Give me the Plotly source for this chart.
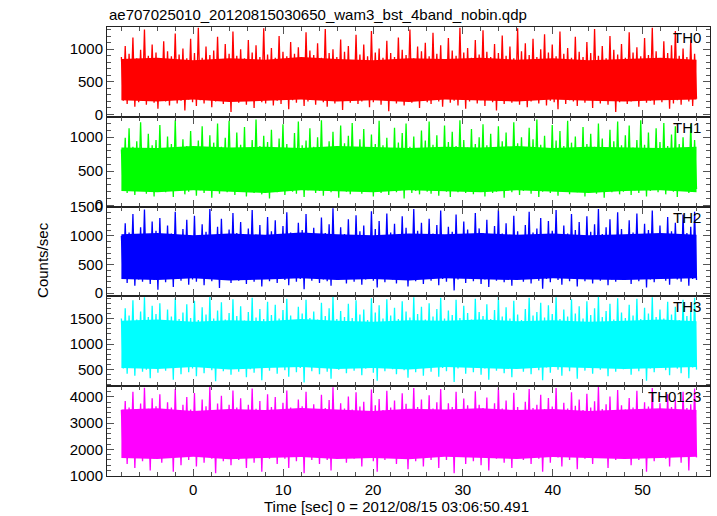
import numpy as np
import plotly.graph_objects as go
from plotly.subplots import make_subplots

title_text = "ae707025010_20120815030650_wam3_bst_4band_nobin.qdp"
x_title = "Time [sec] 0 = 2012/08/15 03:06:50.491"
y_title = "Counts/sec"
band_names = ["TH0", "TH1", "TH2", "TH3", "TH0123"]
band_colors = ["#ff0000", "#00ff00", "#0000ff", "#00ffff", "#ff00ff"]

t_start = -8.0
t_stop = 56.0

# Alternating local maxima / minima of each light curve
th0 = [
    880, 210, 1050, 160, 930, 240, 1180, 120, 860, 190, 990, 230, 1300, 150, 900, 220, 1070, 180, 950, 90,
    840, 240, 1120, 200, 970, 140, 890, 250, 1240, 170, 920, 210, 1010, 60, 860, 230, 1160, 190, 940, 130,
    1330, 220, 870, 170, 1040, 250, 910, 110, 980, 200, 1190, 240, 850, 160, 1080, 210, 930, 40, 1270, 230,
    900, 180, 1000, 250, 860, 150, 1140, 220, 950, 100, 1060, 240, 880, 190, 1320, 170, 920, 230, 1020, 140,
    870, 210, 1200, 160, 960, 240, 890, 80, 1110, 220, 930, 180, 1030, 250, 850, 130, 1260, 200, 980, 230,
    910, 150, 1090, 240, 870, 190, 1310, 120, 940, 220, 1000, 170, 880, 250, 1150, 70, 960, 210, 1050, 180,
    830, 240, 1220, 160, 920, 200, 1070, 230, 890, 110, 1280, 190, 950, 250, 1010, 150, 870, 220, 1130, 50,
    940, 230, 880, 170, 1180, 210, 990, 140, 910, 250, 1300, 180, 860, 220, 1040, 100, 970, 240, 1100, 190,
    890, 160, 1250, 230, 930, 200, 1060, 120, 850, 250, 1170, 180, 980, 210, 900, 140, 1330, 230, 950, 90,
    1020, 200, 870, 250, 1140, 170, 920, 220, 1290, 130, 960, 240, 880, 190, 1080, 60, 940, 210, 1210, 160,
    900, 240, 1040, 180, 860, 220, 1320, 150, 970, 250, 1090, 110, 910, 200, 1160, 230, 880, 170, 1000, 240,
    1230, 140, 950, 210, 1070, 190, 890, 80, 1270, 240, 930, 160, 1020, 220, 870, 200, 1190, 130, 960, 250,
    880, 180, 1110, 230, 940, 100, 1310, 210, 900, 170, 1050, 250, 860, 150, 1200, 220, 990, 40, 920, 190,
    1080, 240, 870, 160, 1260, 200, 950, 230, 1030, 120, 890, 250, 1170, 180, 910, 210, 1330, 150, 970, 230,
    860, 190, 1120, 240, 940, 90, 1060, 170, 1280, 220, 900, 150, 1010, 250, 880, 200, 1150, 130, 930, 240,
]
th1 = [
    820, 230, 990, 180, 1130, 250, 860, 150, 940, 210, 1220, 240, 800, 170, 1050, 220, 880, 130, 960, 200,
    1180, 250, 840, 190, 1010, 230, 900, 120, 1250, 210, 830, 240, 970, 160, 870, 200, 1090, 250, 810, 140,
    950, 220, 1160, 180, 850, 240, 1030, 110, 920, 230, 1200, 170, 860, 250, 990, 190, 1240, 210, 840, 150,
    1070, 240, 890, 200, 1150, 130, 820, 250, 960, 180, 1260, 220, 870, 160, 1020, 240, 930, 100, 1110, 210,
    840, 190, 980, 250, 1190, 150, 900, 230, 810, 200, 1060, 170, 1230, 240, 880, 120, 950, 220, 1130, 250,
    860, 180, 1000, 210, 1250, 140, 830, 240, 940, 190, 1080, 230, 870, 110, 1170, 250, 910, 200, 1020, 160,
    1210, 220, 850, 250, 970, 170, 1120, 200, 820, 240, 1040, 130, 900, 210, 1240, 180, 880, 230, 990, 150,
    830, 250, 1140, 190, 920, 220, 1060, 100, 1200, 240, 860, 180, 1010, 210, 840, 160, 1100, 250, 950, 200,
    1230, 170, 890, 230, 1030, 140, 810, 250, 1170, 200, 930, 120, 1080, 240, 870, 190, 1250, 220, 960, 180,
    850, 240, 1120, 160, 900, 210, 1000, 250, 1190, 130, 880, 230, 1050, 180, 820, 200, 1160, 240, 940, 110,
    1070, 220, 860, 190, 1220, 250, 910, 150, 1000, 210, 830, 240, 1140, 170, 970, 230, 1260, 120, 890, 200,
    1020, 250, 840, 180, 1180, 220, 950, 140, 1090, 240, 870, 200, 1240, 160, 920, 230, 1010, 190, 810, 250,
    1150, 130, 900, 220, 1050, 250, 860, 170, 1200, 210, 980, 110, 830, 240, 1110, 190, 940, 230, 1230, 160,
    880, 200, 1030, 250, 1170, 150, 850, 220, 960, 180, 1250, 240, 890, 130, 1070, 210, 820, 250, 1130, 190,
    930, 230, 1210, 160, 870, 240, 1040, 200, 1160, 120, 900, 220, 1000, 250, 840, 180, 1190, 210, 960, 240,
]
th2 = [
    1000, 250, 1220, 180, 1060, 290, 1380, 130, 980, 240, 1150, 200, 1460, 270, 1020, 160, 1250, 230, 1090, 60,
    1310, 280, 970, 190, 1180, 250, 1040, 110, 1420, 260, 990, 220, 1120, 290, 1280, 150, 1010, 240, 1350, 200,
    960, 270, 1200, 140, 1070, 290, 1470, 210, 1000, 250, 1160, 90, 1300, 230, 980, 280, 1110, 180, 1400, 260,
    1050, 220, 1240, 290, 970, 160, 1130, 240, 1450, 200, 1020, 270, 1190, 120, 990, 250, 1330, 210, 1080, 290,
    1270, 180, 1000, 260, 1170, 230, 1410, 140, 1060, 290, 960, 200, 1230, 250, 1100, 70, 1380, 270, 1010, 220,
    1140, 290, 980, 180, 1320, 240, 1050, 210, 1200, 130, 1480, 260, 990, 230, 1150, 280, 1030, 170, 1290, 250,
    1010, 200, 1360, 270, 1080, 150, 1180, 240, 970, 290, 1430, 220, 1120, 100, 1260, 260, 1000, 190, 1390, 280,
    1060, 240, 1210, 170, 990, 290, 1340, 230, 1140, 120, 1020, 260, 1470, 210, 1090, 280, 1230, 160, 980, 250,
    1300, 220, 1040, 290, 1190, 140, 1440, 250, 1000, 200, 1160, 270, 1070, 50, 1370, 240, 1010, 290, 1250, 180,
    1110, 260, 980, 210, 1400, 280, 1130, 160, 1050, 240, 1280, 110, 990, 290, 1170, 220, 1460, 250, 1040, 190,
    1220, 280, 1000, 130, 1350, 240, 1080, 270, 970, 200, 1190, 290, 1420, 170, 1060, 250, 1130, 220, 1310, 80,
    1020, 250, 1260, 190, 1090, 290, 1450, 230, 990, 150, 1180, 270, 1040, 210, 1380, 260, 1100, 120, 1240, 290,
    1000, 210, 1340, 280, 1070, 170, 1200, 250, 1470, 220, 1030, 290, 1150, 140, 1290, 240, 980, 200, 1410, 270,
    1120, 230, 1010, 290, 1270, 160, 1060, 250, 1390, 210, 990, 280, 1210, 100, 1100, 240, 1440, 190, 1030, 260,
    1180, 290, 1000, 220, 1330, 150, 1080, 270, 1230, 240, 970, 200, 1370, 280, 1050, 130, 1160, 250, 1420, 230,
]
th3 = [
    1500, 520, 1700, 420, 1560, 570, 1860, 380, 1480, 540, 1640, 460, 1920, 500, 1530, 330, 1750, 560, 1590, 440,
    1800, 580, 1460, 480, 1680, 530, 1540, 300, 1900, 560, 1490, 410, 1620, 570, 1780, 450, 1510, 520, 1850, 370,
    1470, 550, 1720, 430, 1580, 580, 1930, 490, 1500, 270, 1660, 540, 1820, 470, 1480, 570, 1610, 400, 1880, 530,
    1550, 460, 1740, 580, 1460, 350, 1630, 510, 1910, 440, 1520, 560, 1690, 290, 1490, 540, 1830, 480, 1570, 580,
    1770, 420, 1500, 550, 1670, 490, 1890, 360, 1560, 570, 1450, 450, 1730, 530, 1600, 250, 1870, 560, 1510, 470,
    1640, 580, 1480, 410, 1810, 530, 1550, 460, 1700, 320, 1930, 550, 1490, 500, 1650, 570, 1530, 430, 1790, 540,
    1510, 480, 1860, 560, 1580, 390, 1680, 520, 1470, 580, 1900, 440, 1620, 280, 1760, 550, 1500, 470, 1880, 570,
    1560, 510, 1710, 410, 1490, 580, 1840, 490, 1640, 340, 1520, 560, 1920, 450, 1590, 570, 1730, 380, 1480, 530,
    1800, 460, 1540, 580, 1690, 360, 1910, 530, 1500, 470, 1660, 560, 1570, 260, 1870, 520, 1510, 580, 1750, 420,
    1610, 550, 1480, 450, 1890, 570, 1630, 400, 1550, 520, 1780, 300, 1490, 580, 1670, 480, 1930, 540, 1540, 430,
    1720, 570, 1500, 350, 1850, 520, 1580, 560, 1470, 460, 1690, 580, 1910, 410, 1560, 530, 1630, 490, 1810, 290,
    1520, 540, 1760, 440, 1590, 580, 1920, 500, 1490, 380, 1680, 560, 1540, 470, 1880, 550, 1600, 320, 1740, 580,
    1500, 480, 1840, 570, 1570, 420, 1700, 540, 1930, 500, 1530, 580, 1650, 370, 1790, 530, 1480, 460, 1900, 560,
    1620, 510, 1510, 580, 1770, 400, 1560, 540, 1890, 470, 1490, 570, 1710, 280, 1600, 520, 1920, 450, 1530, 550,
    1680, 580, 1500, 490, 1830, 390, 1580, 560, 1730, 520, 1470, 430, 1870, 570, 1550, 330, 1660, 540, 1910, 500,
]
th0123 = [
    3500, 1700, 3850, 1450, 3600, 1850, 4200, 1300, 3450, 1750, 3750, 1550, 4350, 1800, 3550, 1200, 3950, 1650, 3650, 1900,
    4100, 1500, 3500, 1800, 3800, 1700, 3600, 1150, 4300, 1850, 3480, 1400, 3700, 1900, 4000, 1600, 3520, 1750, 4150, 1350,
    3450, 1800, 3900, 1500, 3650, 1900, 4380, 1650, 3500, 1100, 3750, 1850, 4050, 1550, 3480, 1900, 3700, 1400, 4250, 1750,
    3600, 1600, 3950, 1900, 3450, 1300, 3700, 1700, 4320, 1500, 3550, 1850, 3850, 1150, 3500, 1800, 4100, 1650, 3620, 1900,
    4000, 1450, 3500, 1850, 3780, 1650, 4250, 1300, 3600, 1900, 3420, 1550, 3900, 1800, 3650, 1100, 4200, 1850, 3520, 1600,
    3720, 1900, 3480, 1450, 4080, 1750, 3580, 1600, 3880, 1200, 4370, 1850, 3500, 1700, 3760, 1900, 3560, 1500, 4020, 1800,
    3520, 1650, 4180, 1850, 3640, 1350, 3820, 1750, 3450, 1900, 4280, 1550, 3680, 1150, 3920, 1850, 3500, 1600, 4240, 1900,
    3600, 1700, 3860, 1450, 3480, 1900, 4140, 1650, 3740, 1250, 3540, 1850, 4340, 1550, 3620, 1900, 3900, 1350, 3460, 1800,
    4060, 1600, 3560, 1900, 3800, 1300, 4300, 1750, 3500, 1600, 3760, 1850, 3620, 1100, 4200, 1750, 3520, 1900, 3940, 1450,
    3680, 1850, 3460, 1550, 4220, 1900, 3700, 1400, 3580, 1750, 3980, 1200, 3500, 1900, 3760, 1650, 4360, 1800, 3560, 1500,
    3860, 1900, 3500, 1300, 4160, 1750, 3620, 1850, 3450, 1600, 3820, 1900, 4300, 1450, 3580, 1800, 3700, 1650, 4080, 1150,
    3540, 1800, 3960, 1500, 3640, 1900, 4340, 1700, 3480, 1350, 3780, 1850, 3560, 1600, 4180, 1850, 3660, 1250, 3900, 1900,
    3500, 1650, 4120, 1900, 3600, 1450, 3840, 1800, 4380, 1700, 3540, 1900, 3720, 1300, 4020, 1800, 3460, 1600, 4260, 1850,
    3680, 1750, 3520, 1900, 3960, 1400, 3600, 1800, 4240, 1600, 3480, 1900, 3800, 1150, 3640, 1750, 4340, 1550, 3540, 1850,
    3760, 1900, 3500, 1650, 4100, 1350, 3620, 1850, 3880, 1750, 3460, 1500, 4200, 1900, 3580, 1200, 3720, 1800, 4320, 1700,
]

# Envelope of the saturated core of each light curve (every 4 s from -8 to 56)
core_lo = [
    [220, 200, 230, 190, 210, 230, 200, 220, 190, 230, 210, 200, 230, 210, 200, 220, 230],
    [210, 190, 220, 200, 180, 220, 200, 190, 220, 210, 190, 220, 200, 180, 210, 220, 190],
    [250, 230, 260, 220, 240, 260, 230, 250, 220, 260, 240, 230, 260, 240, 230, 250, 260],
    [530, 510, 550, 500, 530, 550, 510, 530, 500, 550, 530, 510, 550, 530, 510, 530, 550],
    [1680, 1640, 1720, 1630, 1680, 1710, 1640, 1680, 1630, 1720, 1680, 1640, 1710, 1680, 1640, 1680, 1720],
]
core_hi = [
    [850, 870, 830, 860, 840, 880, 850, 830, 860, 850, 870, 840, 860, 830, 850, 870, 840],
    [850, 840, 870, 850, 860, 840, 870, 850, 840, 860, 850, 870, 840, 860, 850, 840, 860],
    [1030, 1050, 1010, 1040, 1020, 1060, 1030, 1010, 1040, 1030, 1050, 1020, 1040, 1010, 1030, 1050, 1020],
    [1460, 1480, 1440, 1470, 1450, 1490, 1460, 1440, 1470, 1460, 1480, 1450, 1470, 1440, 1460, 1480, 1450],
    [3520, 3570, 3470, 3540, 3500, 3580, 3520, 3470, 3550, 3520, 3570, 3500, 3540, 3470, 3520, 3570, 3500],
]

series = [th0, th1, th2, th3, th0123]
y_ranges = [[-35, 1340], [-20, 1300], [-55, 1510], [175, 1935], [990, 4410]]
y_dticks = [500, 500, 500, 500, 1000]
y_minor = [100, 100, 100, 100, 200]
x_range = [-9.6, 57.5]

FONT = "Liberation Sans, Arial, Helvetica, sans-serif"

fig = make_subplots(rows=5, cols=1, shared_xaxes=True, vertical_spacing=0)

for i, (vals, name, col) in enumerate(zip(series, band_names, band_colors)):
    t = np.linspace(t_start, t_stop, len(vals))
    tc = np.linspace(t_start, t_stop, len(core_lo[i]))
    fig.add_trace(
        go.Scatter(x=list(tc) + list(tc[::-1]), y=core_hi[i] + core_lo[i][::-1],
                   mode="lines", fill="toself", fillcolor=col, line=dict(width=0, color=col),
                   showlegend=False, hoverinfo="skip"),
        row=i + 1, col=1,
    )
    fig.add_trace(
        go.Scatter(x=t, y=vals, mode="lines", line=dict(color=col, width=1.3),
                   showlegend=False, hoverinfo="skip"),
        row=i + 1, col=1,
    )
    fig.update_yaxes(
        range=y_ranges[i], dtick=y_dticks[i], tick0=0,
        minor=dict(dtick=y_minor[i], ticks="inside", ticklen=4, tickcolor="#555"),
        row=i + 1, col=1,
    )
    fig.add_annotation(
        text=name, xref="x domain" if i == 0 else f"x{i+1} domain",
        yref="y domain" if i == 0 else f"y{i+1} domain",
        x=0.988, y=1.0, xanchor="right", yanchor="top", yshift=0,
        showarrow=False, font=dict(family=FONT, size=15, color="black"),
    )

fig.update_yaxes(
    showline=True, linecolor="#222", linewidth=1, mirror="allticks",
    ticks="inside", ticklen=7, tickcolor="#555", showgrid=False, zeroline=False,
    tickfont=dict(family=FONT, size=15, color="black"), automargin=False,
)
fig.update_xaxes(
    range=x_range, dtick=10, tick0=0,
    minor=dict(dtick=2, ticks="inside", ticklen=4, tickcolor="#555"),
    showline=True, linecolor="#222", linewidth=1, mirror="allticks",
    ticks="inside", ticklen=7, tickcolor="#555", showgrid=False, zeroline=False,
    tickfont=dict(family=FONT, size=15, color="black"), automargin=False,
)

fig.add_annotation(text=title_text, xref="paper", yref="paper", x=0, y=1,
                   xanchor="left", yanchor="bottom", yshift=2, showarrow=False,
                   font=dict(family=FONT, size=15, color="black"))
fig.add_annotation(text=x_title, xref="paper", yref="paper", x=0.48, y=0,
                   xanchor="center", yanchor="middle", yshift=-30, showarrow=False,
                   font=dict(family=FONT, size=15, color="black"))
fig.add_annotation(text=y_title, xref="paper", yref="paper", x=-0.108, y=0.481,
                   xanchor="center", yanchor="middle", textangle=-90, showarrow=False,
                   font=dict(family=FONT, size=15, color="black"))

fig.update_layout(
    width=717, height=516,
    margin=dict(l=107, r=7, t=27, b=40),
    paper_bgcolor="white", plot_bgcolor="white",
    font=dict(family=FONT, size=15, color="black"),
)

fig.write_html(
    "out.html",
    config={"displayModeBar": False},
    post_script="document.body.style.margin='0';document.body.style.overflow='hidden';",
)
